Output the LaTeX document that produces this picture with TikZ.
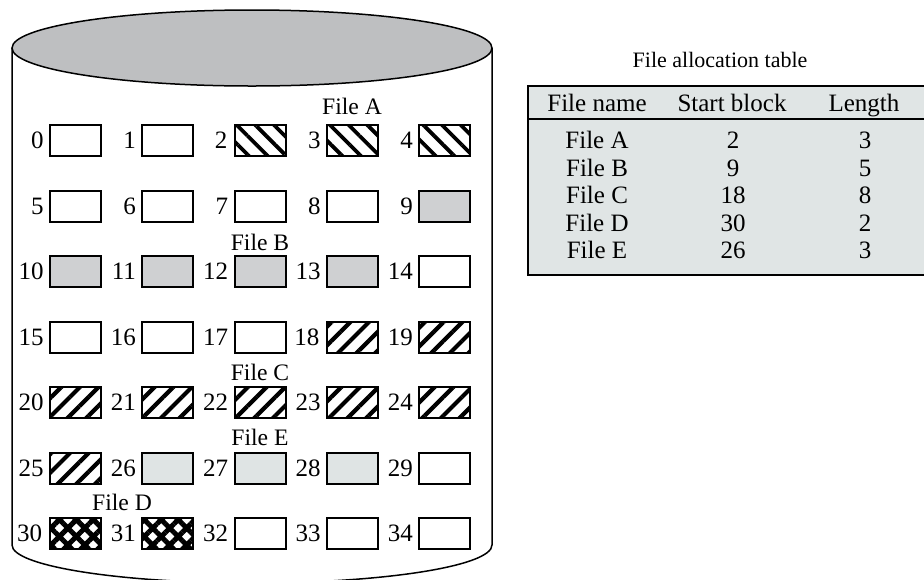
\documentclass[tikz,border=0pt]{standalone}
\usepackage{fontspec}
\setmainfont{Liberation Serif}
\usetikzlibrary{patterns.meta}
\definecolor{diskgray}{HTML}{BEBFC1}
\definecolor{fileBgray}{HTML}{CFD0D2}
\definecolor{fileEgray}{HTML}{DFE4E4}
\definecolor{tablegray}{HTML}{E0E5E5}
\begin{document}
\begin{tikzpicture}[x=0.5pt,y=-0.5pt,
  font=\fontsize{12.5}{15}\selectfont,
  blk/.style={draw,line width=1pt,minimum width=25.5pt,minimum height=15.5pt,inner sep=0pt},
  free/.style={blk,fill=white},
  fa/.style={blk,pattern={Lines[angle=-45,distance=6.6pt,line width=1.9pt]}},
  fb/.style={blk,fill=fileBgray},
  fc/.style={blk,pattern={Lines[angle=45,distance=6.6pt,line width=2.1pt]}},
  fd/.style={blk,pattern={Hatch[angle=45,distance=6pt,line width=2.5pt]}},
  fe/.style={blk,fill=fileEgray},
  flabel/.style={font=\fontsize{11.8}{14}\selectfont,inner sep=0pt},
  cell/.style={anchor=base,inner sep=0pt}]
 \clip (0,0) rectangle (924,579);
 % disk
 \draw[line width=0.75pt] (12,48) -- (12,545) arc[start angle=180,end angle=0,x radius=240,y radius=38] -- (492,48);
 \draw[line width=0.75pt,fill=diskgray] (252,48) ellipse[x radius=240,y radius=38];
 % blocks
 \foreach \r/\kinds in {0/{free,free,fa,fa,fa},1/{free,free,free,free,fb},2/{fb,fb,fb,fb,free},
   3/{free,free,free,fc,fc},4/{fc,fc,fc,fc,fc},5/{fc,fe,fe,fe,free},6/{fd,fd,free,free,free}}
  \foreach \k [count=\c from 0] in \kinds {
   \pgfmathtruncatemacro\n{5*\r+\c}
   \node[\k] (b\n) at (75.5+92.3*\c,140.5+65.5*\r) {};
   \node[anchor=east,inner sep=0pt] (n\n) at ([xshift=-2.5pt]b\n.west) {\n};
  }
 \node[flabel] (la) at (352,106) {File A};
 \node[flabel] (lb) at (260,242) {File B};
 \node[flabel] (lc) at (260,372) {File C};
 \node[flabel] (le) at (260,437) {File E};
 \node[flabel] (ld) at (122,502) {File D};
 % file allocation table
 \node[font=\fontsize{11}{13}\selectfont] (fattitle) at (720,60) {File allocation table};
 \draw[line width=0.9pt,fill=tablegray] (528,86) rectangle (930,275);
 \draw[line width=0.9pt] (528,119) -- (930,119);
 \foreach \x/\t [count=\i] in {597/File name,732/Start block,864/Length}
  \node[cell] (h\i) at (\x,111) {\t};
 \foreach \f/\s/\l [count=\i from 0] in {A/2/3,B/9/5,C/18/8,D/30/2,E/26/3} {
  \node[cell] (fn\i) at (597,148.5+27.5*\i) {File \f};
  \node[cell] (fs\i) at (733,148.5+27.5*\i) {\s};
  \node[cell] (fl\i) at (865,148.5+27.5*\i) {\l};
 }
\end{tikzpicture}
\end{document}
